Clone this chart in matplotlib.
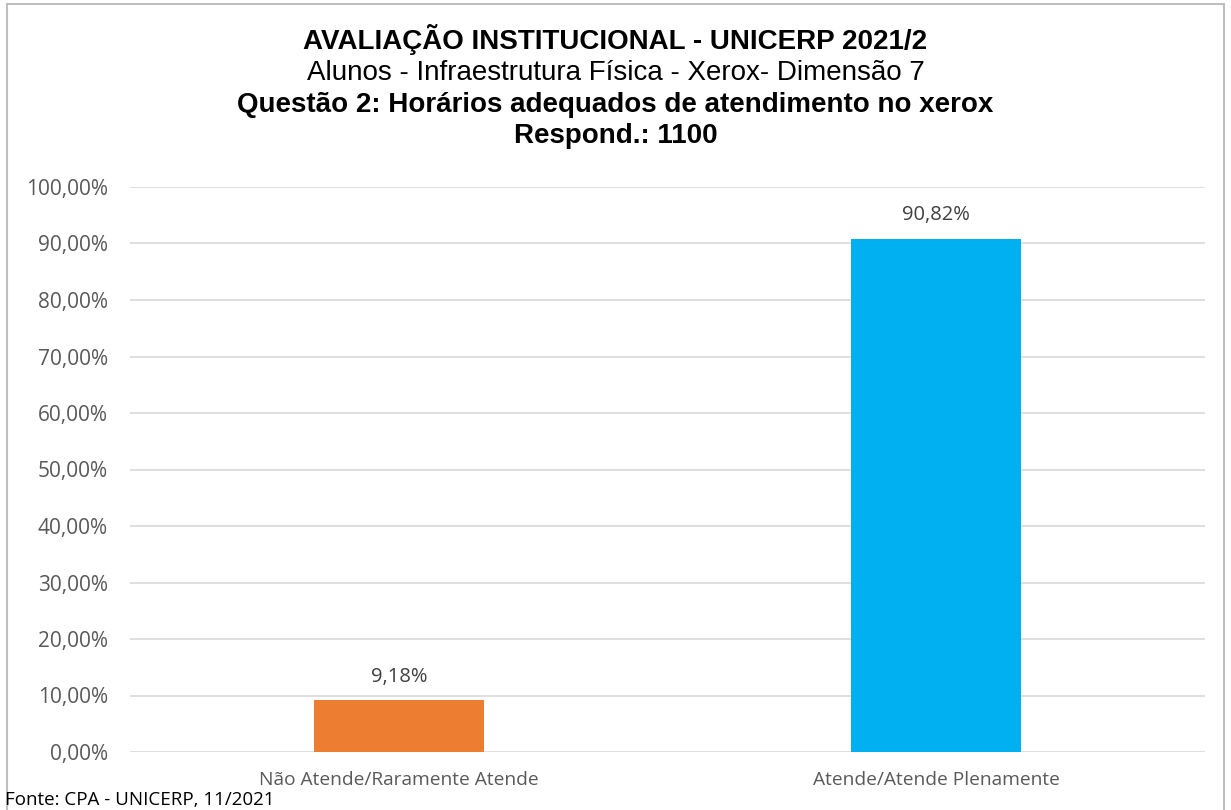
import matplotlib.pyplot as plt
from matplotlib.patches import Rectangle
from matplotlib.ticker import FuncFormatter

# data
categorias = ["Não Atende/Raramente Atende", "Atende/Atende Plenamente"]
valores = [9.18, 90.82]
cores = ["#ED7D31", "#00B0F0"]
titulo = "AVALIAÇÃO INSTITUCIONAL - UNICERP 2021/2"
subtitulo = "Alunos - Infraestrutura Física - Xerox- Dimensão 7"
questao = "Questão 2: Horários adequados de atendimento no xerox"
respond = "Respond.: 1100"
fonte = "Fonte: CPA - UNICERP, 11/2021"

plt.rcParams['font.family'] = ['Open Sans', 'DejaVu Sans']

fig = plt.figure(figsize=(12.31, 8.10), dpi=100)
W, H = 1231, 810
ax = fig.add_axes([130 / W, 1 - 752 / H, (1205 - 130) / W, (752 - 187) / H])

x = range(len(categorias))
bars = ax.bar(x, valores, width=0.316, color=cores, zorder=3)
for b, v in zip(bars, valores):
    ax.text(b.get_x() + b.get_width() / 2, v + 2.4, f"{v:.2f}%".replace(".", ","),
            ha="center", va="bottom", fontsize=14.5, color="#404040")

ax.set_xlim(-0.5, 1.5)
ax.set_ylim(0, 100)
ax.set_yticks(range(0, 101, 10))
ax.yaxis.set_major_formatter(FuncFormatter(lambda v, p: f"{v:.2f}%".replace(".", ",")))
ax.set_xticks(list(x))
ax.set_xticklabels(categorias)
ax.tick_params(axis="both", length=0, labelcolor="#595959")
ax.tick_params(axis="y", pad=16, labelsize=15)
ax.tick_params(axis="x", pad=14, labelsize=13.8)
ax.grid(axis="y", color="#D9D9D9", linewidth=1.2, zorder=0)
for s in ax.spines.values():
    s.set_visible(False)

# titles
tfam = ["Liberation Sans", "DejaVu Sans"]
fig.text(0.5, 1 - 49 / H, titulo, ha="center", va="baseline", fontsize=20,
         fontweight="bold", family=tfam)
fig.text(0.5, 1 - 80 / H, subtitulo, ha="center", va="baseline", fontsize=20,
         family=tfam)
fig.text(0.5, 1 - 112 / H, questao, ha="center", va="baseline", fontsize=20,
         fontweight="bold", family=tfam)
fig.text(0.5, 1 - 143 / H, respond, ha="center", va="baseline", fontsize=20,
         fontweight="bold", family=tfam)

fig.text(5 / W, 1 - 800 / H, fonte, ha="left", va="center", fontsize=13.5, color="#000000")

# outer frame
fig.patches.append(Rectangle((7 / W, -0.01), (1224 - 7) / W, 1 - 4 / H + 0.01,
                             transform=fig.transFigure, fill=False,
                             edgecolor="#BFBFBF", linewidth=1.5))

fig.savefig("out.png", dpi=100)
